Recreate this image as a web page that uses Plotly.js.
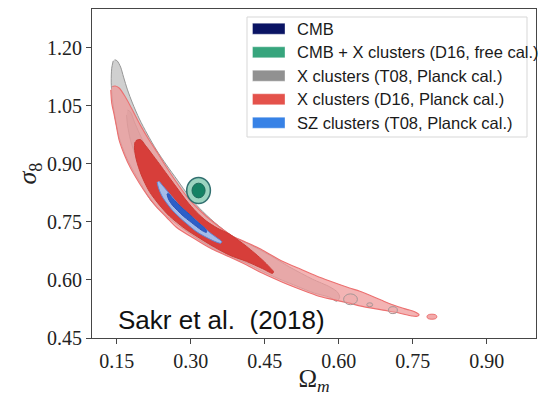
<!DOCTYPE html>
<html><head><meta charset="utf-8">
<script src="https://cdn.plot.ly/plotly-3.0.1.min.js"></script>
<style>html,body{margin:0;padding:0;background:#fff;}#chart{width:538px;height:396px;}</style>
</head><body><div id="chart"></div>
<script>
// ---------- data ----------
const xTicks = [0.15, 0.30, 0.45, 0.60, 0.75, 0.90];
const yTicks = [0.45, 0.60, 0.75, 0.90, 1.05, 1.20];

const legendLabels = ["CMB", "CMB + X clusters (D16, free cal.)", "X clusters (T08, Planck cal.)",
                      "X clusters (D16, Planck cal.)", "SZ clusters (T08, Planck cal.)"];
const legendColors = ["rgb(10,20,100)", "rgb(55,165,125)", "rgb(145,145,145)",
                      "rgb(228,82,75)", "rgb(55,130,230)"];

// X clusters T08 (gray), 2 sigma
const grayOuterX = [0.146,0.151,0.158,0.164,0.172,0.182,0.196,0.212,0.231,0.251,0.273,0.298,0.318,0.348,0.385,0.419,0.460,0.501,0.547,0.582,0.598,0.602,0.596,
                    0.582,0.551,0.515,0.486,0.446,0.409,0.379,0.344,0.312,0.277,0.247,0.220,0.200,0.182,0.168,0.155,0.147,0.141,0.139,0.140,0.143];
const grayOuterY = [1.169,1.166,1.150,1.124,1.091,1.057,1.016,0.977,0.935,0.897,0.858,0.814,0.785,0.749,0.713,0.692,0.664,0.633,0.602,0.582,0.568,0.555,0.545,
                    0.555,0.566,0.584,0.599,0.622,0.646,0.664,0.685,0.708,0.739,0.770,0.804,0.847,0.886,0.922,0.969,1.018,1.070,1.111,1.147,1.166];
// X clusters T08 (gray), 1 sigma
const grayInnerX = [0.172,0.178,0.186,0.196,0.208,0.222,0.241,0.261,0.287,0.318,0.348,0.383,0.419,0.444,0.436,0.409,0.379,0.344,0.312,0.281,0.253,0.227,0.206,0.190,0.178,0.172,0.170];
const grayInnerY = [1.039,1.034,1.008,0.979,0.946,0.910,0.873,0.837,0.798,0.760,0.726,0.695,0.666,0.646,0.641,0.646,0.661,0.682,0.708,0.739,0.775,0.819,0.866,0.915,0.961,1.000,1.026];
// gray 2 sigma islands in the tail: centre and half sizes
const grayIslandX  = [0.624, 0.663, 0.710];
const grayIslandY  = [0.550, 0.536, 0.522];
const grayIslandRx = [0.014, 0.006, 0.009];
const grayIslandRy = [0.014, 0.005, 0.009];

// X clusters D16 (red), 2 sigma
const redOuterX = [0.138,0.140,0.145,0.149,0.155,0.166,0.178,0.196,0.212,0.231,0.251,0.271,0.312,0.344,0.379,0.419,0.446,0.486,0.515,0.555,0.582,0.622,0.643,0.690,0.724,0.748,0.759,0.763,
                   0.754,0.738,0.718,0.690,0.643,0.622,0.582,0.555,0.515,0.486,0.446,0.413,0.385,0.348,0.318,0.292,0.271,0.251,0.233,0.216,0.198,0.182,0.168,0.155,0.147,0.141];
const redOuterY = [1.091,1.057,1.026,1.000,0.961,0.922,0.889,0.850,0.819,0.788,0.762,0.736,0.703,0.679,0.659,0.635,0.617,0.594,0.579,0.560,0.551,0.540,0.533,0.522,0.514,0.507,0.506,0.510,
                   0.518,0.524,0.532,0.546,0.571,0.579,0.597,0.610,0.632,0.648,0.677,0.697,0.713,0.747,0.780,0.816,0.853,0.891,0.928,0.961,1.000,1.039,1.072,1.096,1.101,1.100];
// red 2 sigma island
const redIslandX = [0.789], redIslandY = [0.505], redIslandRx = [0.010], redIslandRy = [0.0065];
// X clusters D16 (red), 1 sigma
const redInnerX = [0.189,0.198,0.208,0.220,0.237,0.253,0.271,0.292,0.312,0.332,0.354,0.379,0.413,0.446,0.460,0.468,
                   0.466,0.446,0.413,0.379,0.348,0.318,0.287,0.257,0.237,0.216,0.200,0.190,0.186,0.187];
const redInnerY = [0.960,0.963,0.948,0.928,0.899,0.871,0.840,0.804,0.775,0.752,0.734,0.718,0.687,0.651,0.633,0.621,
                   0.617,0.629,0.648,0.664,0.685,0.708,0.734,0.765,0.793,0.829,0.871,0.910,0.941,0.956];

// SZ clusters T08 (blue)
const blueOuterX = [0.232,0.235,0.243,0.253,0.263,0.279,0.298,0.314,0.332,0.348,0.361,0.363,0.354,0.338,0.324,0.308,0.292,0.277,0.263,0.251,0.241,0.236];
const blueOuterY = [0.853,0.837,0.814,0.796,0.780,0.760,0.739,0.723,0.710,0.700,0.695,0.699,0.708,0.723,0.739,0.757,0.775,0.793,0.814,0.832,0.847,0.855];
const blueInnerX = [0.252,0.255,0.263,0.273,0.285,0.298,0.312,0.324,0.332,0.331,0.322,0.310,0.298,0.285,0.273,0.263,0.256,0.253];
const blueInnerY = [0.822,0.809,0.793,0.780,0.765,0.752,0.738,0.727,0.723,0.730,0.741,0.754,0.769,0.783,0.798,0.811,0.822,0.824];

// CMB + X clusters (green): centre, half sizes for 2 and 1 sigma
const greenCenter = [0.316, 0.831];
const greenOuterR = [0.024, 0.0336];
const greenInnerR = [0.0133, 0.019];

// ---------- traces ----------
function poly(x, y, fill, line, lw) {
  return {x: x, y: y, type: 'scatter', mode: 'lines', fill: 'toself', fillcolor: fill,
          line: {color: line, width: lw, shape: 'spline', smoothing: 0.8},
          hoverinfo: 'skip', showlegend: false};
}
const traces = [
  poly(grayOuterX, grayOuterY, 'rgba(200,200,200,0.85)', 'rgb(150,150,150)', 1),
  poly(grayInnerX, grayInnerY, 'rgba(140,140,140,0.35)', 'rgba(140,140,140,0.8)', 1),
  poly(redOuterX, redOuterY, 'rgba(239,155,155,0.75)', 'rgb(236,112,112)', 1.1),
  poly(redInnerX, redInnerY, 'rgb(215,62,58)', 'rgb(205,58,52)', 1),
  poly(blueOuterX, blueOuterY, 'rgb(165,188,232)', 'rgb(95,135,215)', 1),
  poly(blueInnerX, blueInnerY, 'rgb(45,95,200)', 'rgb(40,82,185)', 1)
];

// ---------- layout helpers ----------
const W = 538, H = 396, M = {l: 92, r: 2, t: 9, b: 58};
const PW = W - M.l - M.r, PH = H - M.t - M.b;
const px = v => (v - M.l) / PW;
const py = v => (H - M.b - v) / PH;

const shapes = [];
function ellipse(cx, cy, rx, ry, fill, line, lw, layer) {
  shapes.push({type: 'circle', xref: 'x', yref: 'y', x0: cx - rx, x1: cx + rx, y0: cy - ry, y1: cy + ry,
               fillcolor: fill, line: {color: line, width: lw}, layer: layer});
}
grayIslandX.forEach((cx, i) => ellipse(cx, grayIslandY[i], grayIslandRx[i], grayIslandRy[i],
  'rgba(232,165,165,0.35)', 'rgb(165,150,150)', 1, 'above'));
redIslandX.forEach((cx, i) => ellipse(cx, redIslandY[i], redIslandRx[i], redIslandRy[i],
  'rgb(242,170,170)', 'rgb(236,112,112)', 1, 'above'));
ellipse(greenCenter[0], greenCenter[1], greenOuterR[0], greenOuterR[1], 'rgb(155,212,192)', 'rgb(50,112,112)', 1.5, 'above');
ellipse(greenCenter[0], greenCenter[1], greenInnerR[0], greenInnerR[1], 'rgb(20,130,100)', 'rgb(30,105,92)', 1, 'above');

// manual legend
shapes.push({type: 'rect', xref: 'paper', yref: 'paper', x0: px(247), x1: px(527), y0: py(137), y1: py(17),
             fillcolor: 'rgba(255,255,255,0.9)', line: {color: 'rgb(215,215,215)', width: 1}, layer: 'above'});
const rowY = [28.7, 52.3, 75.7, 99.3, 122.7];
const annotations = [];
legendLabels.forEach((lab, i) => {
  shapes.push({type: 'rect', xref: 'paper', yref: 'paper', x0: px(252.5), x1: px(285), y0: py(rowY[i] + 5.5), y1: py(rowY[i] - 5.5),
               fillcolor: legendColors[i], line: {color: 'rgba(255,255,255,0.35)', width: 1}, layer: 'above'});
  annotations.push({xref: 'paper', yref: 'paper', x: px(295), y: py(rowY[i]), xanchor: 'left', yanchor: 'middle',
                    text: lab, showarrow: false, font: {family: 'Liberation Sans, Arial, sans-serif', size: 16.5, color: '#1a1a1a'}});
});
annotations.push({xref: 'paper', yref: 'paper', x: px(116), y: py(320), xanchor: 'left', yanchor: 'middle',
                  text: 'Sakr et al.\u00a0 (2018)', showarrow: false,
                  font: {family: 'Liberation Sans, Arial, sans-serif', size: 26, color: '#111'}});

const axisCommon = {
  showgrid: false, zeroline: false, showline: true, mirror: true, linecolor: 'rgb(70,70,70)', linewidth: 1,
  ticks: 'outside', ticklen: 5, tickwidth: 1, tickcolor: 'rgb(70,70,70)',
  tickfont: {family: 'Liberation Serif, Times New Roman, serif', size: 20, color: '#222'},
  tickformat: '.2f', fixedrange: true
};
const layout = {
  width: W, height: H, margin: M, paper_bgcolor: '#fff', plot_bgcolor: '#fff', showlegend: false,
  xaxis: Object.assign({}, axisCommon, {range: [0.1, 1.0], tickmode: 'array', tickvals: xTicks,
    title: {text: 'Ω<sub><i>m</i></sub>', font: {family: 'Liberation Serif, serif', size: 25, color: '#222'}, standoff: 10}}),
  yaxis: Object.assign({}, axisCommon, {range: [0.45, 1.30], tickmode: 'array', tickvals: yTicks,
    title: {text: '<i>σ</i><sub>8</sub>', font: {family: 'Liberation Serif, serif', size: 26, color: '#222'}, standoff: 2}}),
  shapes: shapes, annotations: annotations
};
Plotly.newPlot('chart', traces, layout, {displayModeBar: false, staticPlot: true});
</script></body></html>
